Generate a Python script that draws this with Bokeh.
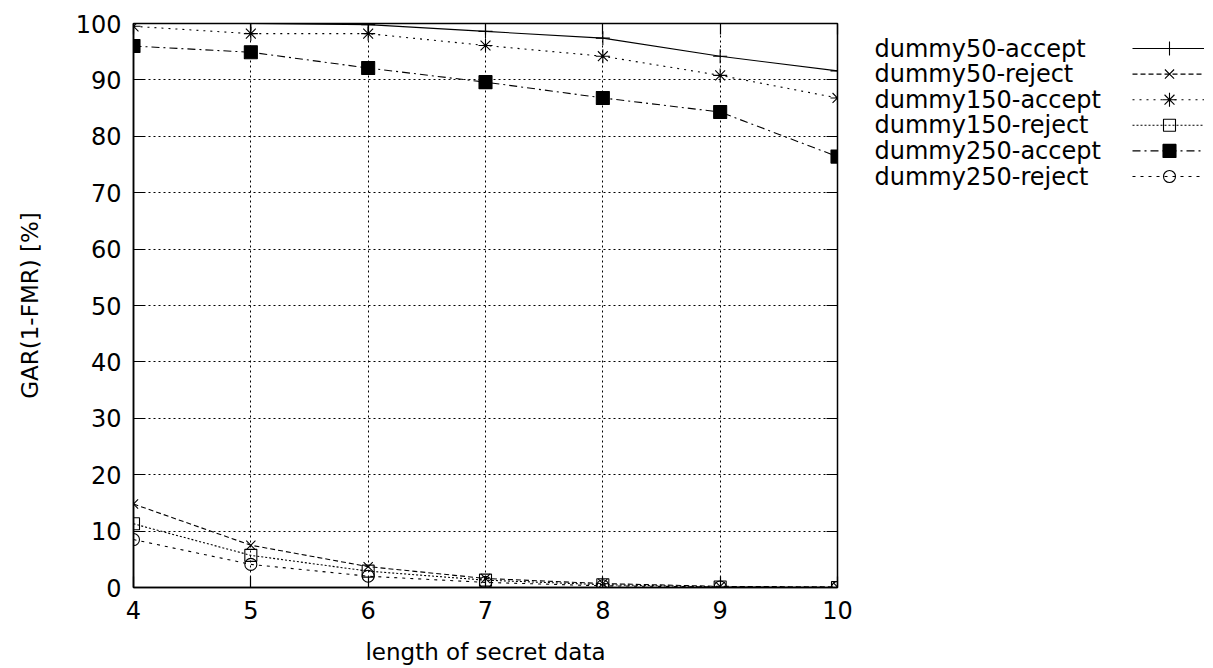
from bokeh.plotting import figure
from bokeh.layouts import row
from bokeh.models import Range1d, FixedTicker, LinearAxis, ColumnDataSource
from bokeh.core.properties import value
from bokeh.embed import file_html
from bokeh.resources import INLINE

# ---- data ----
lengths = [4, 5, 6, 7, 8, 9, 10]
dummy50_accept = [100.0, 100.0, 99.8, 98.6, 97.4, 94.2, 91.6]
dummy50_reject = [14.8, 7.5, 3.7, 1.6, 0.7, 0.2, 0.1]
dummy150_accept = [99.5, 98.2, 98.2, 96.1, 94.2, 90.8, 86.8]
dummy150_reject = [11.3, 5.7, 2.9, 1.3, 0.5, 0.1, 0.0]
dummy250_accept = [96.0, 94.9, 92.1, 89.6, 86.8, 84.3, 76.4]
dummy250_reject = [8.5, 4.1, 2.0, 0.9, 0.3, 0.1, 0.0]

series_names = ["dummy50-accept", "dummy50-reject", "dummy150-accept",
                "dummy150-reject", "dummy250-accept", "dummy250-reject"]
series_values = [dummy50_accept, dummy50_reject, dummy150_accept,
                 dummy150_reject, dummy250_accept, dummy250_reject]
x_ticks = [4, 5, 6, 7, 8, 9, 10]
y_ticks = [0, 10, 20, 30, 40, 50, 60, 70, 80, 90, 100]

FONT = "DejaVu Sans"
FS_TICK = "24px"
FS_LABEL = "23px"
FS_LEGEND = "24px"

styles = [
    dict(dash="solid", marker="cross", size=14, fill=None),
    dict(dash="5 3", marker="x", size=13, fill=None),
    dict(dash="2 5", marker="asterisk", size=14, fill=None),
    dict(dash="2 2", marker="square", size=12, fill=None),
    dict(dash="8 4 2 4", marker="square", size=13, fill="black"),
    dict(dash="3 5", marker="circle", size=12, fill=None),
]

BT, BB = 23, 80   # top / bottom borders shared by both panels
H = 667

p = figure(width=859, height=H, output_backend="svg", toolbar_location=None,
           x_range=Range1d(4, 10), y_range=Range1d(0, 100),
           min_border_left=133, min_border_right=22, min_border_top=BT,
           min_border_bottom=BB)
p.background_fill_color = "white"
p.outline_line_color = "black"
p.outline_line_width = 1.5

for ax in (p.xaxis[0], p.yaxis[0]):
    ax.major_tick_in = 11
    ax.major_tick_out = 0
    ax.minor_tick_line_color = None
    ax.axis_line_color = "black"
    ax.axis_line_width = 1.5
    ax.major_tick_line_color = "black"
    ax.major_tick_line_width = 1.2
    ax.major_label_text_font = FONT
    ax.major_label_text_font_size = FS_TICK
    ax.major_label_text_color = "black"
    ax.axis_label_text_font = FONT
    ax.axis_label_text_font_size = FS_LABEL
    ax.axis_label_text_font_style = "normal"
    ax.axis_label_text_color = "black"

p.xaxis[0].ticker = FixedTicker(ticks=x_ticks)
p.yaxis[0].ticker = FixedTicker(ticks=y_ticks)
p.xaxis[0].axis_label = "length of secret data"
p.yaxis[0].axis_label = "GAR(1-FMR) [%]"
p.xaxis[0].major_label_standoff = 13
p.yaxis[0].major_label_standoff = 12
p.xaxis[0].axis_label_standoff = 17
p.yaxis[0].axis_label_standoff = 30

# mirrored ticks on top and right
top = LinearAxis(ticker=FixedTicker(ticks=x_ticks),
                 major_label_overrides={t: "" for t in x_ticks})
right = LinearAxis(ticker=FixedTicker(ticks=y_ticks),
                   major_label_overrides={t: "" for t in y_ticks})
for ax in (top, right):
    ax.major_tick_in = 11
    ax.major_tick_out = 0
    ax.minor_tick_line_color = None
    ax.axis_line_color = None
    ax.major_tick_line_color = "black"
    ax.major_tick_line_width = 1.2
    ax.major_label_standoff = 0
    ax.major_label_text_font_size = "1px"
p.add_layout(top, "above")
p.add_layout(right, "right")

p.xgrid.grid_line_color = "black"
p.xgrid.grid_line_dash = "2 3"
p.xgrid.grid_line_width = 1
p.ygrid.grid_line_color = "black"
p.ygrid.grid_line_dash = "2 3"
p.ygrid.grid_line_width = 1

for name, vals, st in zip(series_names, series_values, styles):
    src = ColumnDataSource(dict(x=lengths, y=vals))
    p.line("x", "y", source=src, line_color="black", line_width=1.1,
           line_dash=st["dash"])
    p.scatter("x", "y", source=src, marker=st["marker"], size=st["size"],
              line_color="black", line_width=1.1,
              fill_color=st["fill"], fill_alpha=1 if st["fill"] else 0)

# ---- legend panel (gnuplot style: text then sample) ----
LW = 345
FH = H - BT - BB
lg = figure(width=LW, height=H, output_backend="svg", toolbar_location=None,
            x_range=Range1d(0, LW), y_range=Range1d(FH, 0),
            x_axis_type=None, y_axis_type=None,
            min_border_left=0, min_border_right=0,
            min_border_top=BT, min_border_bottom=BB)
lg.outline_line_color = None
lg.grid.visible = False

row_y0 = 25
row_dy = 25.6
rows_y = [row_y0 + i * row_dy for i in range(len(series_names))]
lg.text(x=[15] * len(series_names), y=rows_y, text=series_names,
        text_font=value(FONT), text_font_size=FS_LEGEND, text_baseline="middle",
        text_align="left", text_color="black")
for yy, st in zip(rows_y, styles):
    lg.line(x=[273, LW], y=[yy, yy], line_color="black", line_width=1.1,
            line_dash=st["dash"])
    lg.scatter(x=[310], y=[yy], marker=st["marker"], size=st["size"],
               line_color="black", line_width=1.1,
               fill_color=st["fill"], fill_alpha=1 if st["fill"] else 0)

layout = row(p, lg)
open("out.html", "w").write(file_html(layout, INLINE))
